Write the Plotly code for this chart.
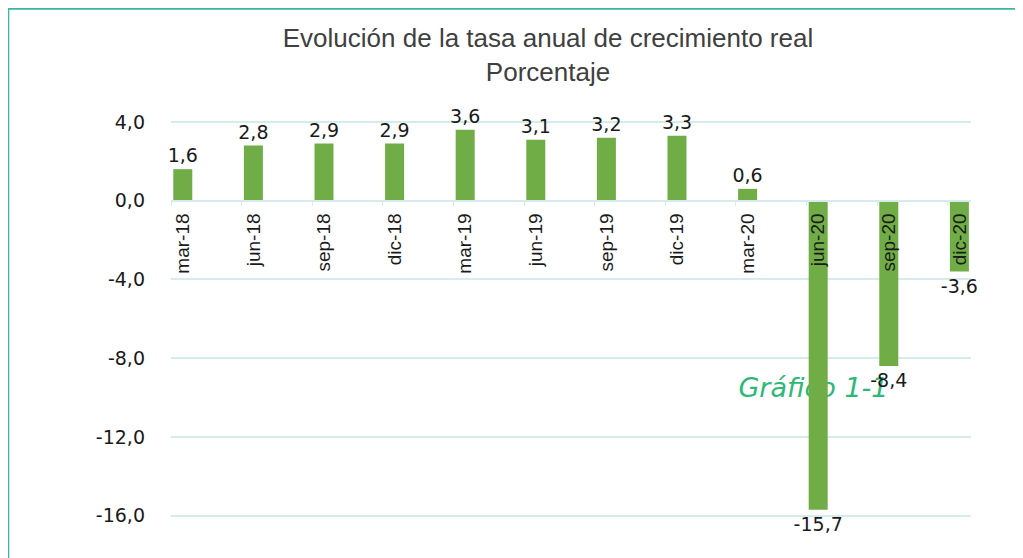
import plotly.graph_objects as go

categories = ["mar-18", "jun-18", "sep-18", "dic-18", "mar-19", "jun-19",
              "sep-19", "dic-19", "mar-20", "jun-20", "sep-20", "dic-20"]
values = [1.6, 2.8, 2.9, 2.9, 3.6, 3.1, 3.2, 3.3, 0.6, -15.7, -8.4, -3.6]
y_ticks = [4, 0, -4, -8, -12, -16]

title_text = "Evolución de la tasa anual de crecimiento real<br>Porcentaje"
note_text = "Gráfico 1-1"

W, H = 1023, 558
OFF = 8  # page body margin offset
left_px, right_px = 170.7 - OFF, 970.7 - OFF
cat_px = 70.6
x_max = (right_px - left_px) / cat_px
bar_off = 0.167
bar_w = 19 / cat_px

y_lo, y_hi = -18.0, 4.2
px_per_unit = 19.66
top_px = 122 - OFF - (y_hi - 4) * px_per_unit
bot_px = top_px + (y_hi - y_lo) * px_per_unit
zero_frac = (0 - y_lo) / (y_hi - y_lo)

def fmt(v):
    return f"{v:.1f}".replace(".", ",")

centers = [i + bar_off for i in range(len(categories))]
grid_col = "#D6ECEC"
green = "#70AD47"
val_font = dict(family="DejaVu Sans", size=19, color="#1a1a1a")

fig = go.Figure()
fig.add_trace(go.Bar(
    x=centers, y=values, width=bar_w,
    marker=dict(color=green, line=dict(width=0)),
    text=[fmt(v) for v in values], textposition="outside", constraintext="none",
    textfont=val_font, cliponaxis=False, showlegend=False,
))
fig.add_trace(go.Scatter(x=centers, y=[0] * len(centers), xaxis="x2",
                         mode="markers", marker=dict(opacity=0), showlegend=False,
                         hoverinfo="skip"))

px_w = right_px - left_px
px_h = bot_px - top_px

fig.update_layout(
    width=W, height=H,
    margin=dict(l=left_px, r=W - right_px, t=top_px, b=H - bot_px),
    paper_bgcolor="white", plot_bgcolor="white",
    title=dict(text=title_text, x=(548 - OFF) / W, xref="container", xanchor="center",
               y=1 - 39 / H, yref="container", yanchor="top",
               font=dict(family="Liberation Sans, Arial", size=26, color="#404040")),
    xaxis=dict(range=[0, x_max], tickvals=list(range(len(categories))),
               showticklabels=False, ticks="outside", ticklen=5, tickcolor=grid_col,
               showline=True, linecolor=grid_col, linewidth=1.5, showgrid=False,
               zeroline=False, anchor="free", position=zero_frac),
    xaxis2=dict(range=[0, x_max], overlaying="x", tickvals=centers, ticktext=categories,
                tickangle=-90, ticks="", showline=False, showgrid=False, zeroline=False,
                anchor="free", position=zero_frac, ticklabelstandoff=8,
                tickfont=dict(family="Liberation Sans Narrow, Arial Narrow, Liberation Sans",
                              size=19, color="#1a1a1a")),
    yaxis=dict(range=[y_lo, y_hi], tickvals=y_ticks, ticktext=[fmt(v) for v in y_ticks],
               showgrid=True, gridcolor=grid_col, gridwidth=1.5, zeroline=False,
               ticks="", ticklabelstandoff=25,
               tickfont=dict(family="DejaVu Sans", size=19, color="#1a1a1a")),
    shapes=[
        dict(type="rect", xref="paper", yref="paper",
             x0=(0 - left_px) / px_w, x1=(1040 - left_px) / px_w,
             y0=(bot_px - 580) / px_h, y1=(bot_px - 1) / px_h,
             line=dict(color="#3DB5A5", width=2), fillcolor="rgba(0,0,0,0)", layer="above"),
        dict(type="rect", xref="x", yref="y", x0=8.2, x1=10.0, y0=-9.9, y1=-8.9,
             line=dict(width=0), fillcolor="rgba(0,0,0,0)", layer="below",
             label=dict(text="<i>" + note_text + "</i>", textposition="middle center",
                        font=dict(family="DejaVu Sans", size=27, color="#2DB878"))),
    ],
)

fig.write_html("out.html")
